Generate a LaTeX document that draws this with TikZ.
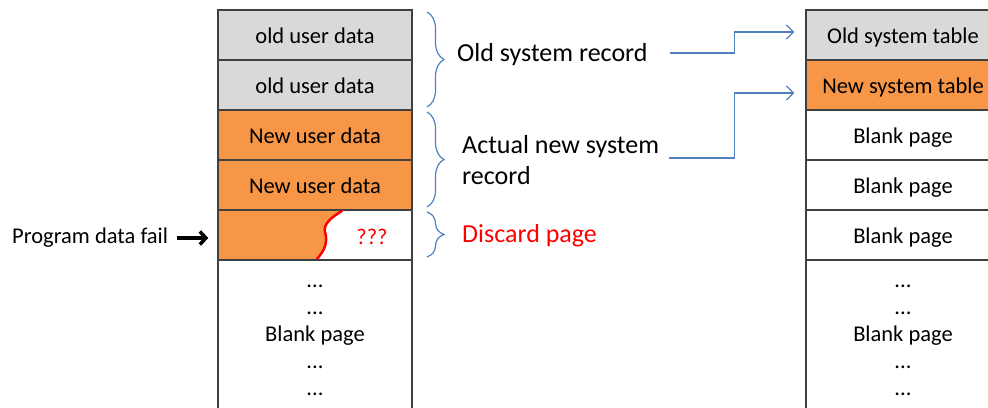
\documentclass[tikz,border=0pt]{standalone}
\usepackage{fontspec}
\setmainfont{Carlito}
\usetikzlibrary{arrows.meta,decorations.pathreplacing,calc}

\definecolor{cellgray}{HTML}{D9D9D9}
\definecolor{cellorange}{HTML}{F79646}
\definecolor{cellline}{HTML}{404040}
\definecolor{bracecol}{HTML}{4F81BD}
\definecolor{failred}{HTML}{FF0000}

\tikzset{
  cell/.style={draw=cellline, line width=1.5pt, minimum width=194pt, minimum height=50pt,
               inner sep=0pt, text height=17pt, text depth=1pt,
               font=\fontsize{22.5}{26}\selectfont},
  tallcell/.style={draw=cellline, line width=1.5pt, minimum width=194pt, minimum height=170pt},
  pagetext/.style={align=center, font=\fontsize{22.5}{27}\selectfont, inner sep=0pt},
  brace/.style={draw=bracecol, line width=1.2pt,
                decorate, decoration={brace, amplitude=17pt, aspect=0.5}},
  note/.style={anchor=west, align=left, inner sep=0pt, font=\fontsize{26}{31}\selectfont},
  link/.style={draw=bracecol, line width=1.2pt, shorten >=11pt,
               -{Straight Barb[length=7pt,width=14pt]}},
}

\begin{document}
\begin{tikzpicture}[x=1pt, y=-1pt]
  \useasboundingbox (0,0) rectangle (988,407);
  \clip (0,0) rectangle (988,407);

  % left column: user data pages
  \node[cell, fill=cellgray]   (l1) at (315,35)  {old user data};
  \node[cell, fill=cellgray]   (l2) at (315,85)  {old user data};
  \node[cell, fill=cellorange] (l3) at (315,135) {New user data};
  \node[cell, fill=cellorange] (l4) at (315,185) {New user data};
  % partially written page: orange up to the tear
  \fill[cellorange] (218,210) -- (342,210)
    .. controls (330,218) and (323,225) .. (325,232)
    .. controls (328,242) and (325,250) .. (317,260) -- (218,260) -- cycle;
  \node[cell] (l5) at (315,235) {};
  \draw[failred, line width=2.5pt, line cap=round] (342,211)
    .. controls (330,218) and (323,225) .. (325,232)
    .. controls (328,242) and (325,250) .. (317,259);
  \node[text=failred, font=\fontsize{22.5}{26}\selectfont] (q) at (372,237) {???};
  \node[tallcell] (l6) at (315,345) {};
  \node[pagetext] (l6t) at (315,340) {...\\...\\Blank page\\...\\...};

  % right column: system table pages
  \node[cell, fill=cellgray]   (r1) at (903,35)  {Old system table};
  \node[cell, fill=cellorange] (r2) at (903,85)  {New system table};
  \node[cell] (r3) at (903,135) {Blank page};
  \node[cell] (r4) at (903,185) {Blank page};
  \node[cell] (r5) at (903,235) {Blank page};
  \node[tallcell] (r6) at (903,345) {};
  \node[pagetext] (r6t) at (903,340) {...\\...\\Blank page\\...\\...};

  % braces grouping the pages
  \draw[brace] (427,12) -- (427,107) coordinate[midway] (b1);
  \draw[brace] (427,112) -- (427,207) coordinate[midway] (b2);
  \draw[brace] (427,212) -- (427,257) coordinate[midway] (b3);

  \node[note] (t1) at (457,55) {Old system record};
  \node[note] (t2) at (462,160) {Actual new system\\record};
  \node[note, text=failred] (t3) at (462,236) {Discard page};

  % links to the system table
  \draw[link] ([xshift=22pt,yshift=2pt]t1.east) -- ++(65,0) |- ([yshift=3pt]r1.west);
  \draw[link] ($(t2.east)+(10,-2)$) -- ++(65,0) |- ([yshift=-8pt]r2.west);

  % failure marker
  \node[anchor=west, inner sep=0pt, font=\fontsize{22.5}{26}\selectfont] (pf) at (12,238) {Program data fail};
  \draw[-{Straight Barb[length=6pt,width=13pt]}, line width=3.5pt, shorten >=9pt, shorten <=9pt]
    (pf.east) -- (pf.east -| l5.west);
\end{tikzpicture}
\end{document}
